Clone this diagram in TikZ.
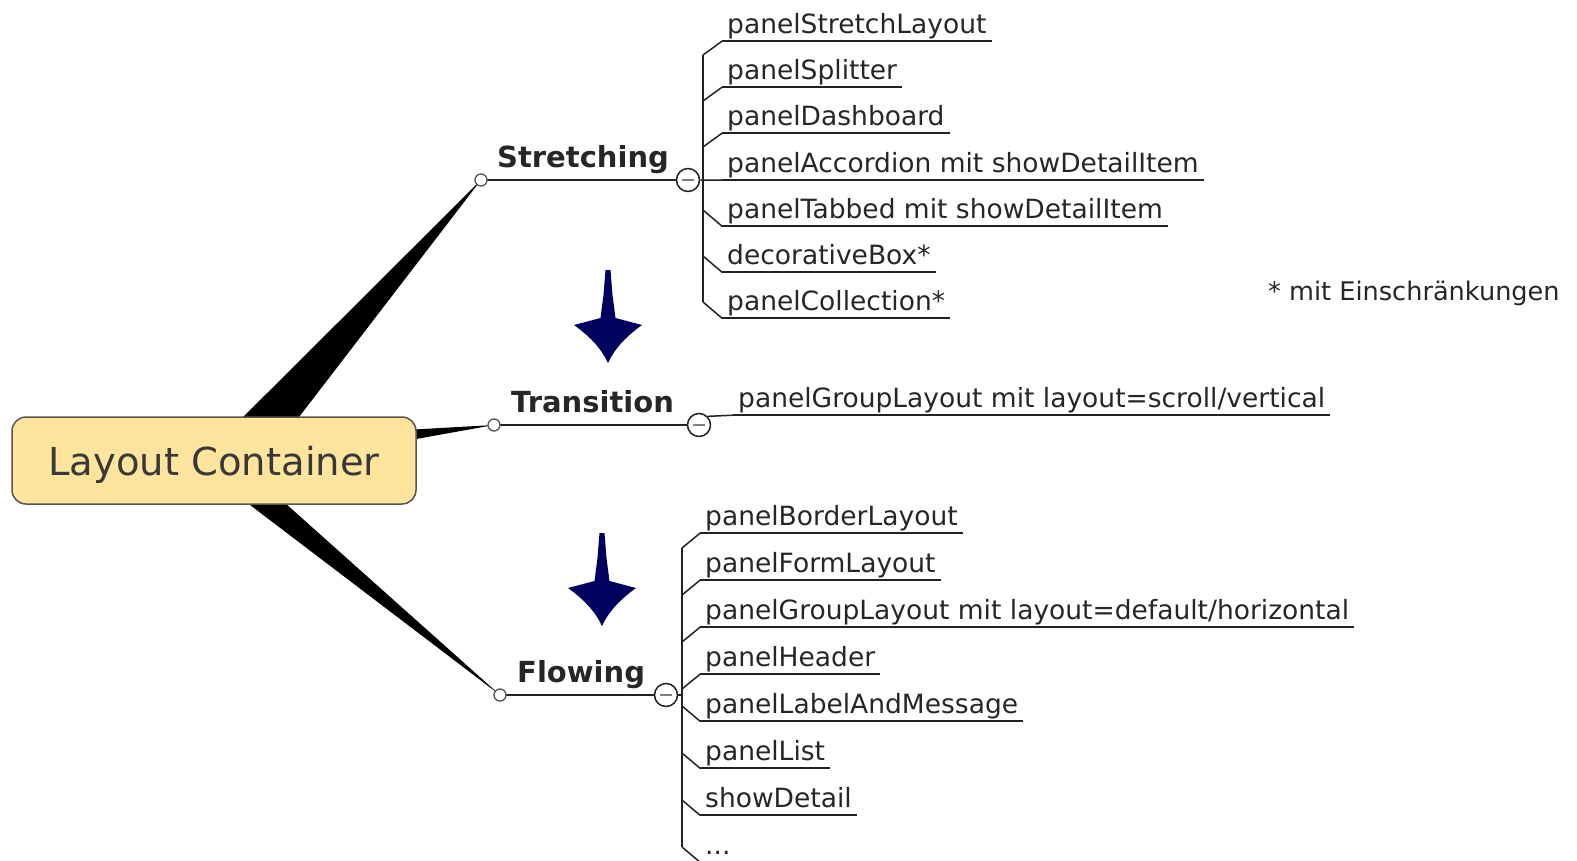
\documentclass[tikz,border=0pt]{standalone}
\usepackage{fontspec}
\setmainfont{DejaVu Sans}
\definecolor{rootfill}{HTML}{FFE49E}
\definecolor{rootdraw}{HTML}{5C5448}
\definecolor{txt}{HTML}{262626}
\definecolor{navy}{HTML}{00005E}
\definecolor{linec}{HTML}{222222}
\tikzset{
  child/.style={anchor=base west,inner xsep=5pt,inner ysep=0pt,text depth=8pt,
     font=\fontsize{26.5}{30}\selectfont,text=txt},
  uline/.style={draw=linec,line width=1.7pt},
  conn/.style={draw=linec,line width=1.5pt},
  branch/.style={anchor=base west,inner sep=0pt,font=\fontsize{29}{32}\selectfont\bfseries,text=txt},
  joint/.style={circle,draw=rootdraw,fill=white,line width=1.3pt,minimum size=12pt,inner sep=0pt},
  collapse/.style={circle,draw=linec,fill=white,line width=1.5pt,minimum size=23pt,inner sep=0pt},
  minusbar/.style={draw=black!50,line width=2.2pt},
  wedge/.style={fill=black},
  bigarrow/.pic={\fill[navy] (-2.5,0) -- (2.5,0) -- (4.5,25) -- (7.5,48)
     -- (34,55)
     .. controls (16,68) and (6,80) .. (0,93)
     .. controls (-6,80) and (-16,68) .. (-34,55)
     -- (-7.5,48) -- (-4.5,25) -- cycle;}
}
\begin{document}
\begin{tikzpicture}[x=1pt,y=-1pt]
\useasboundingbox (0,0) rectangle (1577,860);
% branch points
\coordinate (sj) at (481,180);
\coordinate (tj) at (494,425);
\coordinate (fj) at (500,695);
% wedges (drawn under the root)
\fill[wedge] (200,460) -- (266,460) -- (sj) ++(2,1.5) -- ++(-4,-2) -- cycle;
\fill[wedge] (204,470) -- (248,470) -- (fj) ++(2,0) -- ++(-4,-1) -- cycle;
\fill[wedge] (405,430) -- (405,441) -- (tj) ++(0,1.5) -- ++(0,-2.5) -- cycle;
% root
\node[draw=rootdraw,fill=rootfill,line width=1.5pt,rounded corners=14pt,
  minimum width=404pt,minimum height=87pt,inner sep=0pt,text depth=0pt,
  font=\fontsize{38.5}{42}\selectfont,text=black!78] (root) at (214,460.5) {Layout Container};

% ---------- Stretching ----------
\node[collapse] (sc) at (688,180) {};
\draw[conn] (sj) -- (sc.west);
\node[joint] at (sj) {};
\node[branch] (sl) at (497,167) {Stretching};
\draw[minusbar] ([xshift=-6pt]sc.center) -- ([xshift=6pt]sc.center);
\node[child] (s1) at (722,33) {panelStretchLayout};
\node[child] (s2) at (722,79) {panelSplitter};
\node[child] (s3) at (722,125) {panelDashboard};
\node[child] (s4) at (722,172) {panelAccordion mit showDetailItem};
\node[child] (s5) at (722,218) {panelTabbed mit showDetailItem};
\node[child] (s6) at (722,264) {decorativeBox*};
\node[child] (s7) at (722,310) {panelCollection*};
\foreach \i in {1,...,7} {\draw[uline] (s\i.south west) -- (s\i.south east);}
\coordinate (stop) at (703,55);
\coordinate (sbot) at (703,302);
\draw[conn] (stop) -- (sbot);
\draw[conn] (stop) -- (s1.south west);
\draw[conn] (703,101) -- (s2.south west);
\draw[conn] (703,147) -- (s3.south west);
\draw[conn] (sc.east) -- (s4.south west);
\draw[conn] (703,210) -- (s5.south west);
\draw[conn] (703,256) -- (s6.south west);
\draw[conn] (sbot) -- (s7.south west);

% ---------- Transition ----------
\node[collapse] (tc) at (699,425) {};
\draw[conn] (tj) -- (tc.west);
\node[joint] at (tj) {};
\node[branch] (tl) at (511,412) {Transition};
\draw[minusbar] ([xshift=-6pt]tc.center) -- ([xshift=6pt]tc.center);
\node[child] (t1) at (733,407) {panelGroupLayout mit layout=scroll/vertical};
\draw[uline] (t1.south west) -- (t1.south east);
\draw[conn] (tc.north east) -- (t1.south west);

% ---------- Flowing ----------
\node[collapse] (fc) at (666,695) {};
\draw[conn] (fj) -- (fc.west);
\node[joint] at (fj) {};
\node[branch] (fl) at (517,682) {Flowing};
\draw[minusbar] ([xshift=-6pt]fc.center) -- ([xshift=6pt]fc.center);
\node[child] (f1) at (700,525) {panelBorderLayout};
\node[child] (f2) at (700,572) {panelFormLayout};
\node[child] (f3) at (700,619) {panelGroupLayout mit layout=default/horizontal};
\node[child] (f4) at (700,666) {panelHeader};
\node[child] (f5) at (700,713) {panelLabelAndMessage};
\node[child] (f6) at (700,760) {panelList};
\node[child] (f7) at (700,807) {showDetail};
\node[child] (f8) at (700,854) {...};
\foreach \i in {1,...,7} {\draw[uline] (f\i.south west) -- (f\i.south east);}
\coordinate (ftop) at (682,548);
\coordinate (fbot) at (682,847);
\draw[conn] (ftop) -- (fbot);
\draw[conn] (fc.east) -- (682,695);
\draw[conn] (ftop) -- (f1.south west);
\draw[conn] (682,595) -- (f2.south west);
\draw[conn] (682,642) -- (f3.south west);
\draw[conn] (682,689) -- (f4.south west);
\draw[conn] (682,706) -- (f5.south west);
\draw[conn] (682,753) -- (f6.south west);
\draw[conn] (682,800) -- (f7.south west);
\draw[conn] (fbot) -- (f8.south west);

% note
\node[anchor=base west,inner sep=0pt,font=\fontsize{25.6}{28}\selectfont,text=txt] (note) at (1268,300) {* mit Einschränkungen};

% arrows
\pic at (608,270) {bigarrow};
\pic at (602,533) {bigarrow};
\end{tikzpicture}
\end{document}
